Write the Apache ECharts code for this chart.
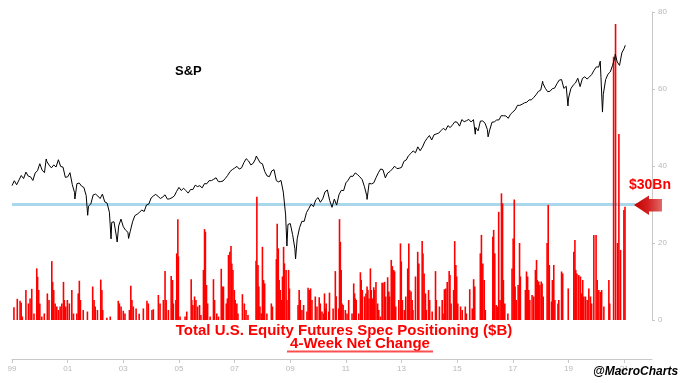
<!DOCTYPE html>
<html>
<head>
<meta charset="utf-8">
<script src="https://cdn.jsdelivr.net/npm/echarts@6/dist/echarts.min.js"></script>
<style>
html,body{margin:0;padding:0;background:#fff;}
#c{width:680px;height:383px;}
</style>
</head>
<body>
<div id="c"></div>
<script>
// x-axis tick years (labels shown as two digits)
const xTickYears = [1999, 2001, 2003, 2005, 2007, 2009, 2011, 2013, 2015, 2017, 2019, 2021];
const rightTicks = [0, 20, 40, 60, 80];
const thresholdLevel = 30;

// S&P 500 month-end closes, Jan 1999 .. Dec 2020
const spxStart = [1999.0, 1229.2];
const spxMonthEnd = [
  1279.6,1238.3,1286.4,1335.2,1301.8,1372.7,1328.7,1320.4,1282.7,1362.9,1389.0,1469.3,
  1394.5,1366.4,1498.6,1452.4,1420.6,1454.6,1430.8,1517.7,1436.5,1429.4,1315.2,1320.3,
  1366.0,1239.9,1160.3,1249.5,1255.8,1224.4,1211.2,1133.6,1040.9,1059.8,1139.5,1148.1,
  1130.2,1106.7,1147.4,1076.9,1067.1,989.8,911.6,916.1,815.3,885.8,936.3,879.8,
  855.7,841.2,848.2,916.9,963.6,974.5,990.3,1008.0,996.0,1050.7,1058.2,1111.9,
  1131.1,1144.9,1126.2,1107.3,1120.7,1140.8,1101.7,1104.2,1114.6,1130.2,1173.8,1211.9,
  1181.3,1203.6,1180.6,1156.9,1191.5,1191.3,1234.2,1220.3,1228.8,1207.0,1249.5,1248.3,
  1280.1,1280.7,1294.8,1310.6,1270.1,1270.2,1276.7,1303.8,1335.9,1377.9,1400.6,1418.3,
  1438.2,1406.8,1420.9,1482.4,1530.6,1503.4,1455.3,1474.0,1526.8,1549.4,1481.1,1468.4,
  1378.6,1330.6,1322.7,1385.6,1400.4,1280.0,1267.4,1282.8,1166.4,968.8,896.2,903.3,
  825.9,735.1,797.9,872.8,919.1,919.3,987.5,1020.6,1057.1,1036.2,1095.6,1115.1,
  1073.9,1104.5,1169.4,1186.7,1089.4,1030.7,1101.6,1049.3,1141.2,1183.3,1180.6,1257.6,
  1286.1,1327.2,1325.8,1363.6,1345.2,1320.6,1292.3,1218.9,1131.4,1253.3,1247.0,1257.6,
  1312.4,1365.7,1408.5,1397.9,1310.3,1362.2,1379.3,1406.6,1440.7,1412.2,1416.2,1426.2,
  1498.1,1514.7,1569.2,1597.6,1630.7,1606.3,1685.7,1633.0,1681.6,1756.5,1805.8,1848.4,
  1782.6,1859.5,1872.3,1883.9,1923.6,1960.2,1930.7,2003.4,1972.3,2018.1,2067.6,2058.9,
  1995.0,2104.5,2067.9,2085.5,2107.4,2063.1,2104.0,1972.2,1920.0,2079.4,2080.4,2043.9,
  1940.2,1932.2,2059.7,2065.3,2096.9,2098.9,2173.6,2170.9,2168.3,2126.2,2199.0,2238.8,
  2278.9,2363.6,2362.7,2384.2,2411.8,2423.4,2470.3,2471.7,2519.4,2575.3,2647.6,2673.6,
  2823.8,2713.8,2640.9,2648.1,2705.3,2718.4,2816.3,2901.5,2914.0,2711.7,2760.2,2506.9,
  2704.1,2784.5,2834.4,2945.8,2752.1,2941.8,2980.4,2926.5,2976.7,3037.6,3141.0,3230.8,
  3225.5,2954.2,2584.6,2912.4,3044.3,3100.3,3271.1,3500.3,3363.0,3270.0,3621.6,3756.1
];
// intra-month highs / lows [decimal year, level]
const spxExtremes = [
  [2000.23,1527],[2000.70,1520],[2001.26,1103],[2001.72,966],[2002.56,797],[2002.78,777],
  [2003.19,800],[2007.78,1565],[2008.88,752],[2009.19,677],[2010.51,1023],[2011.76,1099],
  [2015.65,1868],[2016.11,1829],[2018.07,2873],[2018.72,2931],[2018.98,2351],
  [2020.14,3386],[2020.22,2237],[2020.68,3580],[2021.04,3852]
];

// 4-week net change in spec positioning ($B), [decimal year, value]
const netChange = [
[1999.07,3.3],[1999.19,5.5],[1999.29,5.0],[1999.33,4.5],[1999.37,0.9],[1999.50,7.8],[1999.59,4.3],[1999.65,5.6],[1999.71,8.1],[1999.79,1.7],
[1999.89,13.4],[1999.92,11.2],[1999.96,7.8],[2000.00,4.3],[2000.07,0.9],[2000.16,1.7],[2000.27,6.9],[2000.33,5.2],[2000.43,15.3],[2000.46,9.9],
[2000.50,7.8],[2000.55,4.3],[2000.61,3.5],[2000.67,2.6],[2000.73,3.5],[2000.79,4.3],[2000.85,9.9],[2000.88,5.2],[2000.93,3.5],[2000.99,5.2],
[2001.06,4.3],[2001.15,7.8],[2001.21,1.7],[2001.33,1.7],[2001.38,6.9],[2001.42,10.2],[2001.46,5.2],[2001.56,2.6],[2001.71,2.2],[2001.90,8.7],
[2001.95,5.2],[2001.99,3.5],[2002.07,2.6],[2002.19,10.5],[2002.23,7.8],[2002.26,2.6],[2002.41,0.6],[2002.53,0.9],[2002.82,5.0],[2002.86,4.3],
[2002.92,3.5],[2003.00,2.4],[2003.06,1.7],[2003.22,2.6],[2003.27,8.9],[2003.31,5.2],[2003.36,3.5],[2003.46,3.0],[2003.57,1.6],[2003.72,3.0],
[2003.85,5.0],[2003.90,4.3],[2004.03,2.6],[2004.08,2.8],[2004.26,6.5],[2004.32,4.3],[2004.44,5.2],[2004.50,12.7],[2004.54,5.2],[2004.62,2.6],
[2004.72,11.4],[2004.77,10.4],[2004.80,4.3],[2004.89,5.2],[2004.92,17.3],[2004.96,26.2],[2004.98,16.5],[2005.04,0.9],[2005.22,0.9],[2005.28,2.2],
[2005.44,10.6],[2005.46,5.2],[2005.50,3.9],[2005.56,6.1],[2005.61,5.2],[2005.67,3.5],[2005.74,3.9],[2005.79,1.3],[2005.88,13.0],[2005.92,23.6],
[2005.95,22.9],[2005.99,9.1],[2006.03,4.3],[2006.12,0.9],[2006.24,10.6],[2006.28,5.2],[2006.36,1.7],[2006.42,0.9],[2006.52,13.3],[2006.56,8.7],
[2006.60,8.7],[2006.70,4.3],[2006.74,5.6],[2006.78,16.9],[2006.83,17.7],[2006.87,19.2],[2006.90,14.7],[2006.94,13.0],[2006.99,7.8],[2007.02,5.2],
[2007.08,4.3],[2007.12,1.7],[2007.28,6.7],[2007.35,4.3],[2007.41,2.6],[2007.48,1.3],[2007.77,15.4],[2007.80,32.0],[2007.84,14.3],[2007.87,8.7],
[2007.91,3.5],[2007.96,1.7],[2008.00,19.0],[2008.04,10.4],[2008.08,9.5],[2008.16,1.7],[2008.32,4.3],[2008.36,3.5],[2008.50,15.8],[2008.53,25.0],
[2008.57,18.6],[2008.60,10.4],[2008.64,7.8],[2008.68,5.2],[2008.72,11.3],[2008.76,19.0],[2008.79,14.7],[2008.85,13.0],[2008.88,5.2],[2008.94,13.0],
[2008.97,8.2],[2009.28,3.9],[2009.32,7.8],[2009.36,5.2],[2009.42,2.6],[2009.48,3.9],[2009.60,2.2],[2009.64,8.4],[2009.68,7.8],[2009.73,8.2],
[2009.78,5.2],[2009.90,6.1],[2009.96,3.5],[2010.04,5.9],[2010.08,4.3],[2010.14,2.2],[2010.20,1.7],[2010.23,6.9],[2010.27,3.0],[2010.29,4.3],
[2010.38,2.2],[2010.41,7.1],[2010.54,3.0],[2010.62,12.7],[2010.65,6.2],[2010.74,3.0],[2010.77,26.2],[2010.80,20.3],[2010.83,13.0],[2010.86,4.3],
[2010.90,3.9],[2010.98,2.6],[2011.04,1.7],[2011.10,5.2],[2011.22,1.7],[2011.28,9.5],[2011.31,6.9],[2011.34,5.6],[2011.37,5.2],[2011.46,1.7],
[2011.52,12.4],[2011.55,10.4],[2011.59,7.8],[2011.67,6.1],[2011.72,6.9],[2011.76,8.7],[2011.79,7.8],[2011.83,5.6],[2011.88,13.4],[2011.91,7.8],
[2011.95,5.6],[2012.00,8.5],[2012.03,7.8],[2012.08,9.9],[2012.14,4.3],[2012.18,2.6],[2012.24,0.9],[2012.30,9.7],[2012.33,9.7],[2012.39,9.9],
[2012.43,6.1],[2012.50,11.1],[2012.54,7.4],[2012.57,6.1],[2012.63,15.6],[2012.67,14.0],[2012.72,13.0],[2012.75,12.6],[2012.79,3.5],[2012.90,5.2],
[2012.96,19.9],[2012.99,15.2],[2013.03,5.2],[2013.10,2.6],[2013.15,6.1],[2013.22,13.4],[2013.26,19.9],[2013.29,7.8],[2013.34,7.4],[2013.38,5.2],
[2013.41,2.6],[2013.50,11.3],[2013.58,17.7],[2013.62,14.7],[2013.74,20.5],[2013.77,17.3],[2013.81,12.1],[2013.86,6.9],[2013.89,2.6],[2013.97,7.8],
[2014.01,5.2],[2014.10,2.2],[2014.22,12.7],[2014.25,5.2],[2014.36,3.5],[2014.46,5.2],[2014.49,1.7],[2014.54,8.0],[2014.59,8.2],[2014.64,9.9],
[2014.71,12.7],[2014.74,11.7],[2014.78,4.3],[2014.87,7.8],[2014.91,20.5],[2014.95,14.3],[2014.98,11.3],[2015.02,4.3],[2015.12,3.5],[2015.18,2.6],
[2015.29,3.5],[2015.33,1.7],[2015.45,8.0],[2015.54,3.0],[2015.59,10.6],[2015.63,8.7],[2015.83,17.3],[2015.87,22.1],[2015.92,14.7],[2015.97,10.4],
[2016.01,2.6],[2016.28,21.6],[2016.31,23.4],[2016.35,17.3],[2016.40,3.9],[2016.45,3.5],[2016.49,28.1],[2016.54,5.2],[2016.59,32.9],[2016.63,30.3],
[2016.66,10.4],[2016.71,4.3],[2016.82,1.7],[2016.97,13.4],[2017.01,21.2],[2017.05,31.3],[2017.08,8.7],[2017.12,5.2],[2017.19,9.1],[2017.24,20.0],
[2017.27,11.3],[2017.45,7.8],[2017.49,12.6],[2017.53,11.3],[2017.57,7.8],[2017.61,5.2],[2017.69,6.5],[2017.75,6.1],[2017.81,13.0],[2017.85,15.6],
[2017.88,10.4],[2017.93,10.0],[2017.97,9.1],[2018.02,10.0],[2018.05,9.5],[2018.09,6.1],[2018.23,20.0],[2018.27,29.9],[2018.31,14.3],[2018.39,4.8],
[2018.42,10.4],[2018.47,14.3],[2018.51,5.2],[2018.62,4.3],[2018.65,5.2],[2018.75,12.6],[2018.79,12.1],[2018.99,8.2],[2019.19,17.7],[2019.23,20.8],
[2019.26,13.0],[2019.30,12.1],[2019.37,11.7],[2019.43,11.3],[2019.47,6.9],[2019.51,10.4],[2019.55,6.1],[2019.61,6.1],[2019.67,5.2],[2019.73,8.2],
[2019.79,6.1],[2019.83,4.3],[2019.91,22.1],[2019.99,22.1],[2020.03,10.4],[2020.09,7.8],[2020.15,7.3],[2020.19,7.8],[2020.27,3.5],[2020.45,10.4],
[2020.48,4.3],[2020.62,68.4],[2020.69,76.9],[2020.76,20.0],[2020.81,48.3],[2020.87,18.2],[2020.99,28.6],[2021.03,29.4]
];

// build the S&P series (month-end points + intra-month extremes), sorted by date
const spxSeries = [spxStart];
spxMonthEnd.forEach((v, i) => spxSeries.push([1999 + (i + 1) / 12, v]));
spxExtremes.forEach(p => spxSeries.push(p));
spxSeries.sort((a, b) => a[0] - b[0]);

const FONT = 'Liberation Sans, Arial, sans-serif';
const chart = echarts.init(document.getElementById('c'), null, {renderer: 'canvas'});
chart.setOption({
  animation: false,
  backgroundColor: '#ffffff',
  grid: {left: 12, right: 28, top: 12, bottom: 63, containLabel: false},
  xAxis: {
    type: 'value', min: 1999, max: 2022, offset: 39,
    splitLine: {show: false},
    axisLine: {show: true, onZero: false, lineStyle: {color: '#c8c8c8', width: 1}},
    axisTick: {show: true, length: 4, lineStyle: {color: '#c8c8c8'}, customValues: xTickYears},
    axisLabel: {
      color: '#b8b8b8', fontSize: 8, fontFamily: FONT, margin: 6,
      customValues: xTickYears,
      formatter: v => String(Math.round(v) % 100).padStart(2, '0')
    }
  },
  yAxis: [
    {
      type: 'value', position: 'right', min: 0, max: 80, interval: 20,
      splitLine: {show: false},
      axisLine: {show: true, onZero: false, lineStyle: {color: '#c8c8c8'}},
      axisTick: {show: true, length: 3, lineStyle: {color: '#c8c8c8'}},
      axisLabel: {color: '#b8b8b8', fontSize: 8, fontFamily: FONT, margin: 6,
        formatter: v => rightTicks.includes(v) ? String(v) : ''}
    },
    {type: 'log', min: 412, max: 5050, show: false}
  ],
  series: [
    {
      type: 'line', yAxisIndex: 0, z: 1, silent: true, showSymbol: false,
      data: [[1999, thresholdLevel], [2022, thresholdLevel]],
      lineStyle: {color: '#a9d8ec', width: 3}
    },
    {
      type: 'bar', yAxisIndex: 0, z: 2, barWidth: 1.6, silent: true,
      data: netChange,
      itemStyle: {color: '#ff0000'}
    },
    {
      type: 'line', yAxisIndex: 1, z: 3, silent: true, showSymbol: false,
      data: spxSeries,
      lineStyle: {color: '#000000', width: 1}
    }
  ],
  graphic: [
    {type: 'text', x: 175, y: 71, z: 10,
      style: {text: 'S&P', font: 'bold 13px ' + FONT, fill: '#000', verticalAlign: 'middle'}},
    {type: 'text', x: 629, y: 185, z: 10,
      style: {text: '$30Bn', font: 'bold 14px ' + FONT, fill: '#ff0000', verticalAlign: 'middle'}},
    {type: 'polygon', z: 10,
      shape: {points: [[634, 205], [649, 195.5], [649, 199], [662, 199], [662, 211.5], [649, 211.5], [649, 215]]},
      style: {fill: new echarts.graphic.LinearGradient(0, 0, 1, 0, [
        {offset: 0, color: '#c00000'}, {offset: 0.5, color: '#d42020'}, {offset: 1, color: '#e06a6a'}])}},
    {type: 'text', x: 344, y: 331, z: 10,
      style: {text: 'Total U.S. Equity Futures Spec Positioning ($B)', font: 'bold 15px ' + FONT,
        fill: '#ff0000', align: 'center', verticalAlign: 'middle'}},
    {type: 'text', x: 360, y: 344, z: 10,
      style: {text: '4-Week Net Change', font: 'bold 15px ' + FONT,
        fill: '#ff0000', align: 'center', verticalAlign: 'middle'}},
    {type: 'line', z: 10, shape: {x1: 287, y1: 351.5, x2: 433, y2: 351.5},
      style: {stroke: '#ff5050', lineWidth: 2}},
    {type: 'text', x: 593, y: 372, z: 10,
      style: {text: '@MacroCharts', font: 'italic bold 12px ' + FONT, fill: '#000', verticalAlign: 'middle'}}
  ]
});
</script>
</body>
</html>
